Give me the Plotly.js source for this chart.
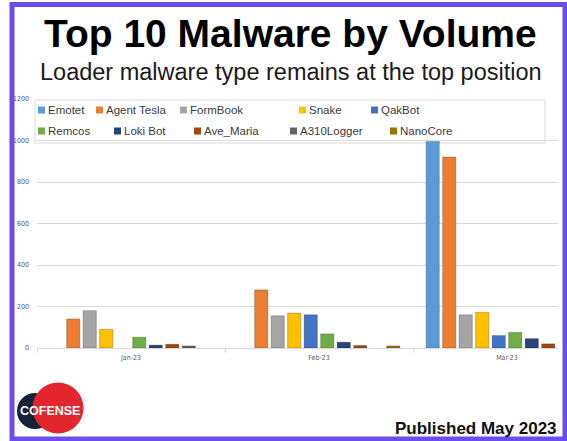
<!DOCTYPE html>
<html><head><meta charset="utf-8">
<script src="https://cdn.plot.ly/plotly-3.0.1.min.js"></script>
<style>html,body{margin:0;padding:0;background:#fff;overflow:hidden}#chart{width:567px;height:441px}</style>
</head><body><div id="chart"></div>
<script>
// ---- data ----
const months = ['Jan-23', 'Feb-23', 'Mar-23'];
const seriesNames = ['Emotet', 'Agent Tesla', 'FormBook', 'Snake', 'QakBot', 'Remcos', 'Loki Bot', 'Ave_Maria', 'A310Logger', 'NanoCore'];
const emotet     = [0, 0, 995];
const agentTesla = [140, 280, 920];
const formBook   = [180, 155, 160];
const snake      = [90, 168, 172];
const qakBot     = [0, 160, 60];
const remcos     = [52, 68, 75];
const lokiBot    = [14, 28, 45];
const aveMaria   = [18, 12, 20];
const a310Logger = [10, 0, 15];
const nanoCore   = [0, 10, 10];
const seriesValues = [emotet, agentTesla, formBook, snake, qakBot, remcos, lokiBot, aveMaria, a310Logger, nanoCore];
const seriesColors = ['#5b9bd5', '#ed7d31', '#a5a5a5', '#ffc000', '#4472c4', '#70ad47', '#264478', '#9e480e', '#636363', '#997300'];
const yTickVals = [0, 200, 400, 600, 800, 1000, 1200];
const titleText = 'Top 10 Malware by Volume';
const subtitleText = 'Loader malware type remains at the top position';
const publishedText = 'Published May 2023';
const logoText = 'COFENSE';

// ---- layout geometry (pixels) ----
const W = 567, H = 441, L = 37, R = 9, T = 99, B = 93;
const px2x = p => (p - L) / (W - L - R);
const py2y = p => (H - B - p) / (H - T - B);
const catWidthPx = 188;

const traces = seriesNames.map((name, i) => ({
  type: 'bar', name: name, x: months, y: seriesValues[i],
  marker: {color: seriesColors[i],
    line: {color: 'rgba(0,0,0,0.22)', width: seriesValues[i].map(v => v > 0 ? 1 : 0)}},
  showlegend: false, hoverinfo: 'skip'
}));

const shapes = [];
const annotations = [];

// legend (manual, two rows)
const legendRows = [[0, 1, 2, 3, 4], [5, 6, 7, 8, 9]];
const legendX = [[38, 96, 180, 299, 371], [38, 114, 194, 290, 390]];
const legendY = [110, 131];
shapes.push({type: 'rect', layer: 'between', xref: 'paper', yref: 'paper',
  x0: px2x(35), x1: px2x(545), y0: py2y(143), y1: py2y(100),
  line: {color: '#d9d9d9', width: 1}, fillcolor: '#ffffff'});
legendRows.forEach((row, r) => row.forEach((si, k) => {
  const mx = legendX[r][k], my = legendY[r];
  shapes.push({type: 'rect', layer: 'above', xref: 'paper', yref: 'paper',
    x0: px2x(mx), x1: px2x(mx + 7), y0: py2y(my + 3.5), y1: py2y(my - 3.5),
    line: {width: 0}, fillcolor: seriesColors[si]});
  annotations.push({xref: 'paper', yref: 'paper', x: px2x(mx + 8), y: py2y(my),
    xanchor: 'left', yanchor: 'middle', showarrow: false, text: seriesNames[si],
    font: {family: 'Liberation Sans, Arial, sans-serif', size: 11.5, color: '#3a3a3a'}});
}));

// titles
annotations.push({xref: 'paper', yref: 'paper', x: px2x(290), y: py2y(33), xanchor: 'center', yanchor: 'middle',
  showarrow: false, text: titleText, font: {family: 'Liberation Sans, Arial, sans-serif', size: 39, weight: 'bold', color: '#000'}});
annotations.push({xref: 'paper', yref: 'paper', x: px2x(291), y: py2y(72), xanchor: 'center', yanchor: 'middle',
  showarrow: false, text: subtitleText, font: {family: 'Liberation Sans, Arial, sans-serif', size: 23.5, color: '#1a1a1a'}});
annotations.push({xref: 'paper', yref: 'paper', x: px2x(559), y: py2y(428), xanchor: 'right', yanchor: 'middle',
  showarrow: false, text: publishedText, font: {family: 'Liberation Sans, Arial, sans-serif', size: 17, weight: 'bold', color: '#111'}});

// logo
function circle(cx, cy, r, color) {
  return {type: 'circle', layer: 'above', xref: 'paper', yref: 'paper',
    x0: px2x(cx - r), x1: px2x(cx + r), y0: py2y(cy + r), y1: py2y(cy - r),
    line: {width: 0}, fillcolor: color};
}
shapes.push(circle(35, 411, 18, '#17223a'));
shapes.push(circle(58, 408, 25.5, '#e3262e'));
annotations.push({xref: 'paper', yref: 'paper', x: px2x(50), y: py2y(411), xanchor: 'center', yanchor: 'middle',
  showarrow: false, text: logoText, font: {family: 'Liberation Sans, Arial, sans-serif', size: 12.5, weight: 'bold', color: '#ffffff'}});

// purple frame
shapes.push({type: 'rect', layer: 'above', xref: 'paper', yref: 'paper',
  x0: px2x(12), x1: px2x(565), y0: py2y(439), y1: py2y(4.5),
  line: {color: '#6b4cf0', width: 5}, fillcolor: 'rgba(0,0,0,0)'});

const layout = {
  width: W, height: H,
  margin: {l: L, r: R, t: T, b: B, pad: 0},
  paper_bgcolor: '#ffffff', plot_bgcolor: '#ffffff',
  barmode: 'group', bargap: 0.122, bargroupgap: 0.2,
  showlegend: false,
  xaxis: {type: 'category', range: [-0.5, -0.5 + (W - L - R) / catWidthPx],
    showgrid: false, showline: true, linecolor: '#d9d9d9', linewidth: 1,
    ticks: 'outside', tickson: 'boundaries', ticklen: 4, tickcolor: '#d9d9d9',
    ticklabelstandoff: 3,
    tickfont: {family: 'DejaVu Sans Condensed, DejaVu Sans, sans-serif', size: 7, color: '#595959'}},
  yaxis: {range: [0, 1200], tickvals: yTickVals, showgrid: true, gridcolor: '#d9d9d9', gridwidth: 1,
    zeroline: false, showline: false, ticks: '', ticklabelstandoff: 7,
    tickfont: {family: 'DejaVu Sans Condensed, DejaVu Sans, sans-serif', size: 7, color: '#595959'}},
  shapes: shapes, annotations: annotations,
  hovermode: false
};

Plotly.newPlot('chart', traces, layout, {staticPlot: true, displayModeBar: false});
</script>
</body></html>
